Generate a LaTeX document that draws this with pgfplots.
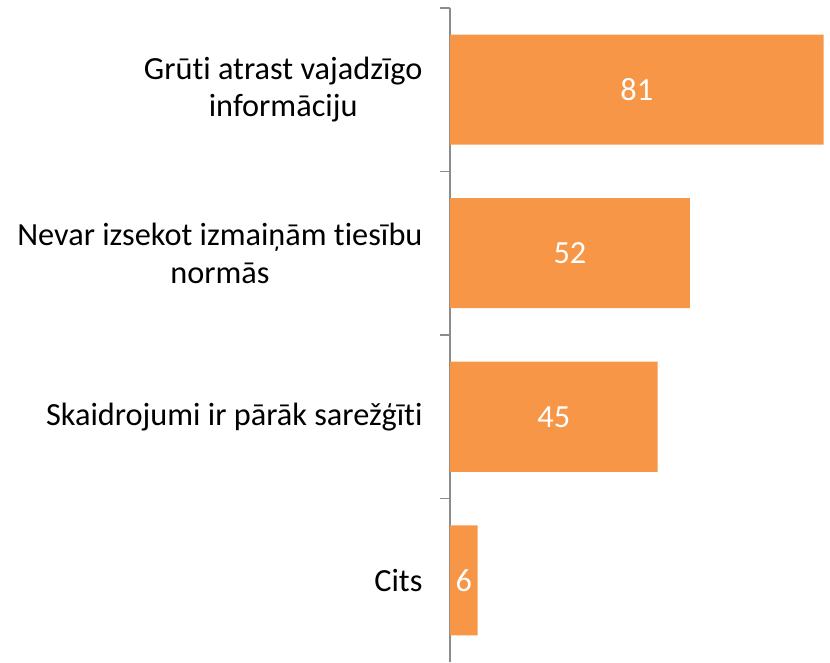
\documentclass[border=0pt]{standalone}
\usepackage{pgfplots}
\pgfplotsset{compat=1.18}
\usepackage{fontspec}
\setmainfont{Carlito}[Ligatures=CommonOff]
\definecolor{barorange}{HTML}{F79646}
\definecolor{axisgray}{HTML}{8C8C8C}
\begin{document}
\begin{tikzpicture}
\useasboundingbox (-450pt,0pt) rectangle (380pt,662pt);
\begin{axis}[
  at={(0pt,0pt)}, anchor=south west,
  scale only axis,
  width=380pt, height=654pt,
  xbar,
  xmin=0, xmax=82.4,
  ymin=-0.5, ymax=3.5,
  bar width=110pt,
  axis x line=none,
  axis y line*=left,
  y axis line style={draw=axisgray, line width=1.3pt},
  ytick={0,1,2,3},
  yticklabels={Cits,Skaidrojumi ir pārāk sarežģīti,{Nevar izsekot izmaiņām tiesību\\normās},{Grūti atrast vajadzīgo\\informāciju}},
  major tick length=0pt,
  minor ytick={0.5,1.5,2.5,3.5},
  minor tick length=10pt,
  tick align=outside,
  minor tick style={draw=axisgray, line width=1.3pt},
  yticklabel style={font=\fontsize{32.3}{37.5}\selectfont, align=center, anchor=east, xshift=-24pt, text=black},
  /pgf/number format/assume math mode=true,
  nodes near coords,
  visualization depends on={rawx \as \myx},
  every node near coord/.append style={anchor=center, text=white, font=\fontsize{32.3}{37.5}\selectfont, shift={(axis direction cs:-\myx/2,0)}},
  clip=false,
]
\addplot[fill=barorange, draw=none] coordinates {(6,0) (45,1) (52,2) (81,3)};
\end{axis}
\end{tikzpicture}
\end{document}
